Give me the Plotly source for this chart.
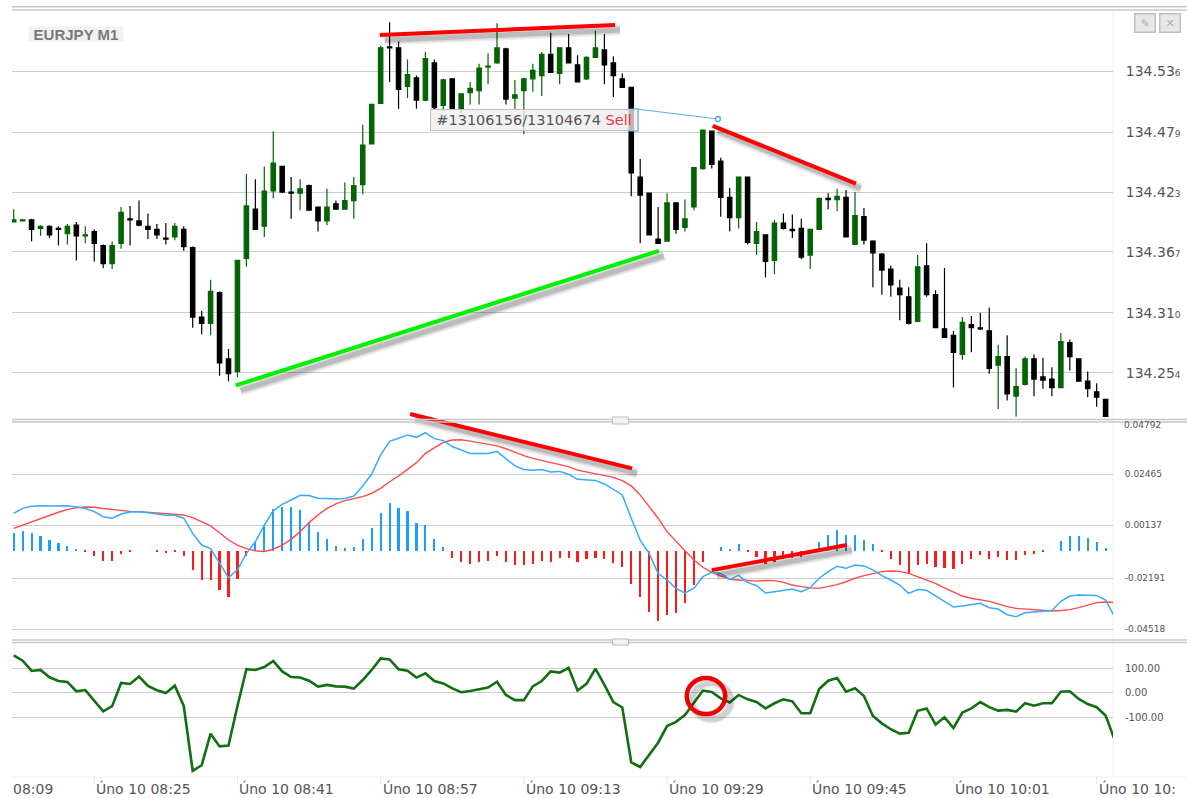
import plotly.graph_objects as go

W, H = 1187, 798
PRICE_BASE = 134.0

# candle values in thousandths above 134.000
highs = [407,397,398,392,392,391,393,395,391,388,
 374,377,409,410,415,403,393,394,394,391,
 372,312,341,330,276,359,440,435,447,480,
 447,437,435,430,409,426,415,432,437,486,
 505,560,582,564,547,532,554,547,529,529,
 515,526,543,553,581,558,528,530,543,554,
 572,558,571,551,550,574,571,550,534,521,
 454,422,409,422,413,416,446,481,480,455,
 427,437,437,395,383,397,403,402,398,388,
 418,422,426,425,423,408,378,366,354,341,
 334,364,375,331,352,293,306,307,310,315,
 280,289,258,269,271,268,259,291,285,267,
 255,244,229]
body_tops = [397,397,397,391,391,389,391,392,383,386,
 373,373,404,398,396,391,388,380,391,388,
 371,306,330,329,267,359,410,407,424,450,
 447,423,426,429,409,409,412,415,429,467,
 505,558,559,558,533,530,548,544,528,529,
 515,520,539,541,558,557,514,529,537,552,
 552,558,558,542,549,558,556,544,529,521,
 437,422,379,413,413,398,446,481,480,452,
 418,437,437,386,383,394,394,388,389,388,
 417,417,419,418,401,400,377,365,351,333,
 325,353,354,327,295,289,301,299,296,293,
 269,269,241,267,267,250,248,283,282,267,
 246,236,229]
body_bottoms = [395,396,388,389,383,388,384,382,382,375,
 356,356,375,397,392,388,383,379,381,372,
 306,300,300,263,253,255,361,388,391,424,
 423,422,422,406,396,396,407,407,415,430,
 468,506,558,519,522,509,509,502,504,501,
 501,516,518,540,544,510,511,518,529,532,
 535,534,544,526,529,549,542,532,521,441,
 420,383,375,377,388,390,409,445,449,418,
 399,399,376,375,358,359,389,387,362,364,
 388,416,416,381,374,378,366,350,336,327,
 300,302,327,296,287,273,271,296,295,258,
 261,234,232,243,248,247,240,240,269,246,
 239,231,213]
lows = [395,396,377,382,380,373,374,359,375,358,
 352,351,370,373,391,379,379,374,378,368,
 296,290,289,251,246,250,353,388,381,417,
 422,398,406,406,386,392,407,407,398,421,
 468,506,526,501,511,501,508,500,499,500,
 497,505,505,524,543,505,501,477,517,513,
 535,524,544,526,528,549,524,512,521,419,
 375,383,375,377,384,386,406,444,445,400,
 386,389,374,364,343,346,388,380,360,351,
 388,407,405,381,374,374,334,327,325,303,
 299,302,325,296,287,240,266,273,294,253,
 220,228,213,242,232,239,232,240,256,246,
 231,222,213]
up_candles = {0,1,3,6,8,11,12,18,22,25,26,28,29,32,35,37,38,39,40,41,44,46,48,50,51,52,53,54,
 56,57,58,59,61,64,65,73,75,76,77,81,83,85,89,90,92,94,101,106,110,112,113,117}

# MACD main and signal, in units of 0.0001
macd_main = [68,91,100,103,102,102,103,97,90,76,
 53,46,65,74,76,71,65,59,59,46,
 -23,-76,-92,-156,-224,-189,-114,-61,15,80,
 109,129,150,149,137,136,134,136,147,193,
 247,334,396,410,425,414,435,408,399,372,
 356,341,341,341,350,318,284,268,264,268,
 256,259,246,223,220,218,202,177,152,46,
 -54,-114,-205,-235,-273,-294,-273,-220,-200,-205,
 -232,-214,-246,-261,-294,-288,-282,-276,-288,-270,
 -227,-197,-173,-182,-167,-171,-189,-215,-235,-258,
 -296,-278,-282,-306,-334,-358,-353,-347,-341,-361,
 -367,-393,-402,-384,-381,-378,-374,-332,-308,-303,
 -303,-305,-326,-402]
macd_signal = [0,15,30,46,59,73,85,94,97,96,
 90,85,80,77,76,73,67,64,64,61,
 49,30,11,-20,-53,-76,-92,-102,-105,-95,
 -76,-50,-15,26,61,91,111,126,134,144,
 159,182,212,238,268,299,341,368,391,402,
 403,397,390,382,375,362,346,331,318,309,
 302,293,281,265,256,247,240,232,217,193,
 152,99,46,-15,-61,-102,-144,-177,-200,-215,
 -232,-235,-238,-240,-237,-238,-246,-258,-265,-271,
 -273,-265,-256,-243,-227,-215,-205,-197,-194,-196,
 -205,-220,-232,-250,-271,-291,-308,-318,-326,-332,
 -344,-356,-364,-367,-371,-374,-376,-374,-370,-361,
 -349,-338,-335,-338]
macd_hist = [78,88,78,66,50,33,22,6,-4,-22,
 -45,-45,-16,-6,0,0,-6,-10,-6,-22,
 -88,-132,-132,-177,-210,-128,-22,40,116,186,
 198,198,183,130,82,51,22,12,16,51,
 100,171,213,193,177,126,116,51,16,-32,
 -50,-60,-50,-45,-22,-50,-65,-65,-60,-45,
 -50,-33,-33,-50,-39,-33,-39,-54,-72,-148,
 -210,-274,-315,-291,-280,-237,-154,-50,0,16,
 6,28,-4,-27,-60,-50,-39,-33,-27,-10,
 39,72,93,72,72,50,28,-4,-37,-66,
 -102,-66,-60,-72,-76,-82,-60,-37,-21,-37,
 -27,-43,-43,-21,-15,-4,0,43,66,66,
 55,39,12]

cci = [154,132,90,94,64,49,45,7,12,-31,
 -75,-54,41,37,67,29,11,0,30,-53,
 -318,-295,-166,-218,-215,-53,97,94,106,131,
 88,65,63,50,26,33,27,26,18,53,
 94,141,137,97,91,63,80,49,39,19,
 3,8,16,22,46,-8,-29,-29,27,49,
 88,83,103,10,37,99,33,-37,-59,-283,
 -302,-253,-203,-135,-118,-90,-42,10,4,-22,
 -39,-8,-26,-37,-63,-42,-26,-34,-83,-83,
 16,50,61,5,19,-12,-94,-124,-148,-166,
 -162,-73,-63,-129,-99,-143,-80,-63,-37,-58,
 -72,-69,-76,-42,-52,-42,-42,5,7,-24,
 -45,-58,-92,-190]

price_ticks = [134.536, 134.479, 134.423, 134.367, 134.310, 134.254]
price_tick_labels = ["134.53", "134.47", "134.42", "134.36", "134.31", "134.25"]
price_tick_last = ["6", "9", "3", "7", "0", "4"]
macd_grid = [0.02465, 0.00137, -0.02274, -0.04594]
macd_tick_labels = ["0.02465", "0.00137", "-0.02191", "-0.04518"]
cci_ticks = [100, 0, -100]
cci_tick_labels = ["100.00", "0.00", "-100.00"]

time_tick_idx = [9, 25, 41, 57, 73, 89, 105, 121]
time_labels = ["Úno 10 08:25", "Úno 10 08:41", "Úno 10 08:57", "Úno 10 09:13",
               "Úno 10 09:29", "Úno 10 09:45", "Úno 10 10:01", "Úno 10 10:"]

# trend lines: bar index and value pairs
price_red1 = ([40.9, 67.2], [570, 579.4])
price_green = ([24.8, 72.1], [242, 368])
price_red2 = ([78.1, 94.1], [485, 431])
macd_red1 = ([44.3, 69.1], [520, 273])
macd_red2 = ([78.0, 93.1], [-190, -76])

GRID = "#cdcdcd"
TXT = "#555555"
UP = "#046404"
DOWN = "#000000"
FONT = "DejaVu Sans"

X0, X1 = 12, 1113
PX_PER_BAR = 8.95
xr = [(X0 - 13.7) / PX_PER_BAR, (X1 - 13.7) / PX_PER_BAR]
MACD_RANGE = [-0.05171, 0.04838]
MACD_TOP, MACD_BOTTOM = 422, 642


def py(y):
    return 1 - y / H


def px(x):
    return x / W


def macd_paper(v):
    """Paper height of a MACD value, so a line may run past the panel's top edge."""
    frac = (v - MACD_RANGE[0]) / (MACD_RANGE[1] - MACD_RANGE[0])
    return py(MACD_BOTTOM) + frac * (py(MACD_TOP) - py(MACD_BOTTOM))


opens = [(b if i in up_candles else t) for i, (t, b) in enumerate(zip(body_tops, body_bottoms))]
closes = [(t if i in up_candles else b) for i, (t, b) in enumerate(zip(body_tops, body_bottoms))]
idx = list(range(len(highs)))
idx_line = list(range(len(macd_main)))

to_price = lambda seq: [PRICE_BASE + v / 1000 for v in seq]
to_macd = lambda seq: [v / 1e4 for v in seq]

fig = go.Figure()
fig.add_trace(go.Candlestick(
    x=idx, open=to_price(opens), high=to_price(highs), low=to_price(lows), close=to_price(closes),
    increasing=dict(line=dict(color=UP, width=1.2), fillcolor=UP),
    decreasing=dict(line=dict(color=DOWN, width=1.2), fillcolor=DOWN),
    whiskerwidth=0, xaxis="x", yaxis="y", hoverinfo="skip", showlegend=False))
fig.add_trace(go.Bar(
    x=idx, y=macd_hist, width=0.24, xaxis="x", yaxis="y2", hoverinfo="skip", showlegend=False,
    marker=dict(color=["#1a9dff" if v >= 0 else "#ff1a1a" for v in macd_hist], line=dict(width=0))))
fig.add_trace(go.Scatter(
    x=idx_line, y=to_macd(macd_signal), mode="lines", line=dict(color="#ff4a4a", width=1.4),
    xaxis="x", yaxis="y4", hoverinfo="skip", showlegend=False))
fig.add_trace(go.Scatter(
    x=idx_line, y=to_macd(macd_main), mode="lines", line=dict(color="#38aaff", width=1.5),
    xaxis="x", yaxis="y4", hoverinfo="skip", showlegend=False))
fig.add_trace(go.Scatter(
    x=idx_line, y=cci, mode="lines", line=dict(color="#127012", width=2.6),
    xaxis="x", yaxis="y3", hoverinfo="skip", showlegend=False))

shapes = []
PRICE_PER_PX = 0.000937
CCI_PER_PX = 100 / 24.5


def trend(xs, ys, yref, per_px, color, width=4):
    for w, a in ((width + 7, 0.06), (width + 4, 0.09), (width + 1, 0.14)):
        shapes.append(dict(type="line", xref="x", yref=yref,
                           x0=xs[0] + 0.55, x1=xs[1] + 0.55,
                           y0=ys[0] - 5 * per_px, y1=ys[1] - 5 * per_px,
                           line=dict(color=f"rgba(0,0,0,{a})", width=w), layer="above"))
    shapes.append(dict(type="line", xref="x", yref=yref, x0=xs[0], x1=xs[1], y0=ys[0], y1=ys[1],
                       line=dict(color=color, width=width), layer="above"))


trend(price_red1[0], to_price(price_red1[1]), "y", PRICE_PER_PX, "#ff0000")
trend(price_green[0], to_price(price_green[1]), "y", PRICE_PER_PX, "#00f000")
trend(price_red2[0], to_price(price_red2[1]), "y", PRICE_PER_PX, "#ff0000")
trend(macd_red1[0], [macd_paper(v) for v in to_macd(macd_red1[1])], "paper", 1 / H, "#ff0000")
trend(macd_red2[0], [macd_paper(v) for v in to_macd(macd_red2[1])], "paper", 1 / H, "#ff0000")

# circle around the CCI peak (shadow then ring)
for w, a in ((9, 0.07), (6, 0.12)):
    shapes.append(dict(type="circle", xref="x", yref="y3", x0=75.8, x1=80.1,
                       y0=-86 - 5 * CCI_PER_PX, y1=61 - 5 * CCI_PER_PX,
                       line=dict(color=f"rgba(0,0,0,{a})", width=w), layer="above"))
shapes.append(dict(type="circle", xref="x", yref="y3", x0=75.2, x1=79.5, y0=-86, y1=61,
                   line=dict(color="#f00000", width=4.5), layer="above"))


def hline(y, x0=X0, x1=W, color="#c8c8c8", width=1.4):
    shapes.append(dict(type="line", xref="paper", yref="paper", x0=px(x0), x1=px(x1), y0=py(y), y1=py(y),
                       line=dict(color=color, width=width), layer="above"))


def rect(x0, y0, x1, y1, fill, line="rgba(0,0,0,0)", width=0):
    shapes.append(dict(type="rect", xref="paper", yref="paper", x0=px(x0), x1=px(x1), y0=py(y0), y1=py(y1),
                       fillcolor=fill, line=dict(color=line, width=width), layer="above"))


# panel separators
hline(6.7)
hline(10)
hline(419.5)
hline(422)
hline(640)
hline(642.5)
hline(777, color="#efefef", width=1)
# light scale border
shapes.append(dict(type="line", xref="paper", yref="paper", x0=px(X1), x1=px(X1), y0=py(10), y1=py(777),
                   line=dict(color="#f0f0f0", width=1), layer="below"))
# time ticks
for i in time_tick_idx:
    shapes.append(dict(type="line", xref="x", yref="paper", x0=i, x1=i, y0=py(777), y1=py(784),
                       line=dict(color="#e6e6e6", width=1), layer="above"))
# splitter handles
rect(612.5, 417, 628.5, 424, "#f2f2f2", "#bdbdbd", 1)
rect(612.5, 639, 628.5, 645, "#f2f2f2", "#bdbdbd", 1)

# trade link
shapes.append(dict(type="line", xref="paper", yref="paper", x0=px(636), x1=px(718), y0=py(109), y1=py(119),
                   line=dict(color="#55b5ea", width=1.2), layer="above"))
shapes.append(dict(type="circle", xref="paper", yref="paper", x0=px(715.5), x1=px(720.5), y0=py(116.5), y1=py(121.5),
                   line=dict(color="#45ace6", width=1.3), fillcolor="#ffffff", layer="above"))
shapes.append(dict(type="path", xref="paper", yref="paper",
                   path=f"M {px(628)} {py(109)} L {px(638)} {py(109)} L {px(638)} {py(131)} L {px(628)} {py(131)}",
                   line=dict(color="#2f9fe6", width=1.2), layer="above"))

TIME_Y = 788.5
annotations = [
    dict(text="<b>EURJPY M1</b>", xref="paper", yref="paper", x=px(28), y=py(34), xanchor="left", yanchor="middle",
         showarrow=False, font=dict(family="Liberation Sans", size=15, color="#7a7a7a"),
         bgcolor="#f1f1f1", borderpad=0, width=94, height=14, align="center"),
    dict(text='#13106156/13104674 <span style="color:#f03040">Sell</span>', xref="paper", yref="paper",
         x=px(430), y=py(120), xanchor="left", yanchor="middle", showarrow=False,
         font=dict(family=FONT, size=14.5, color="#555555"), bgcolor="rgba(238,238,238,0.78)",
         bordercolor="#bdbdbd", borderwidth=1, borderpad=0, width=206, height=20, align="center"),
    dict(text="✎", xref="paper", yref="paper", x=px(1134), y=py(22.5), xanchor="left", yanchor="middle",
         showarrow=False, font=dict(family=FONT, size=11, color="#b0b0b0"), bgcolor="#e8e8e8",
         bordercolor="#c0c0c0", borderwidth=1.5, borderpad=0, width=19, height=17),
    dict(text="✕", xref="paper", yref="paper", x=px(1159), y=py(22.5), xanchor="left", yanchor="middle",
         showarrow=False, font=dict(family=FONT, size=11, color="#b0b0b0"), bgcolor="#e8e8e8",
         bordercolor="#c0c0c0", borderwidth=1.5, borderpad=0, width=19, height=17),
    dict(text="0.04792", xref="paper", yref="paper", x=px(1122), y=py(425), xanchor="left", yanchor="middle",
         showarrow=False, font=dict(family=FONT, size=9, color=TXT)),
    dict(text="08:09", xref="paper", yref="paper", x=px(11), y=py(TIME_Y), xanchor="left", yanchor="middle",
         showarrow=False, font=dict(family=FONT, size=14, color=TXT)),
]
for i, lab in zip(time_tick_idx, time_labels):
    annotations.append(dict(text=lab, xref="x", yref="paper", x=i, y=py(TIME_Y), xanchor="left", yanchor="middle",
                            showarrow=False, font=dict(family=FONT, size=14, color=TXT)))

axis_common = dict(showline=False, zeroline=False, ticks="outside", ticklen=9, tickcolor="rgba(255,255,255,0)",
                   side="right", anchor="x", gridcolor=GRID, gridwidth=1.4, tickmode="array", automargin=False)

fig.update_layout(
    template=None,
    width=W, height=H, autosize=False, margin=dict(l=0, r=0, t=0, b=0, pad=0),
    paper_bgcolor="#ffffff", plot_bgcolor="#ffffff", showlegend=False, bargap=0,
    boxgap=0.3, shapes=shapes, annotations=annotations, hovermode=False,
    font=dict(family=FONT, color=TXT),
    xaxis=dict(domain=[px(X0), px(X1)], range=xr, showgrid=False, zeroline=False, showticklabels=False,
               ticks="", rangeslider=dict(visible=False), anchor="y3", automargin=False),
    yaxis=dict(domain=[py(419), py(10)], range=[PRICE_BASE + 0.2106, PRICE_BASE + 0.5934],
               tickvals=price_ticks,
               ticktext=[f'{a}<span style="font-size:9px">{b}</span>' for a, b in zip(price_tick_labels, price_tick_last)],
               tickfont=dict(family=FONT, size=14, color=TXT), showgrid=True, **axis_common),
    # histogram scale: its zero sits on its own level in the panel
    yaxis2=dict(domain=[py(MACD_BOTTOM), py(MACD_TOP)], range=[-411, 579], showticklabels=False,
                showline=False, zeroline=False, showgrid=False, ticks="", anchor="x", side="right", automargin=False),
    yaxis4=dict(overlaying="y2", range=MACD_RANGE, tickvals=macd_grid, ticktext=macd_tick_labels,
                tickfont=dict(family=FONT, size=9, color=TXT), showgrid=True, **axis_common),
    yaxis3=dict(domain=[py(777), py(644)], range=[-343, 200], tickvals=cci_ticks, ticktext=cci_tick_labels,
                tickfont=dict(family=FONT, size=10, color=TXT), showgrid=True, **axis_common),
)

fig.write_html("out.html", config=dict(displayModeBar=False),
               post_script="document.body.style.margin='0';document.documentElement.style.overflow='hidden';")
